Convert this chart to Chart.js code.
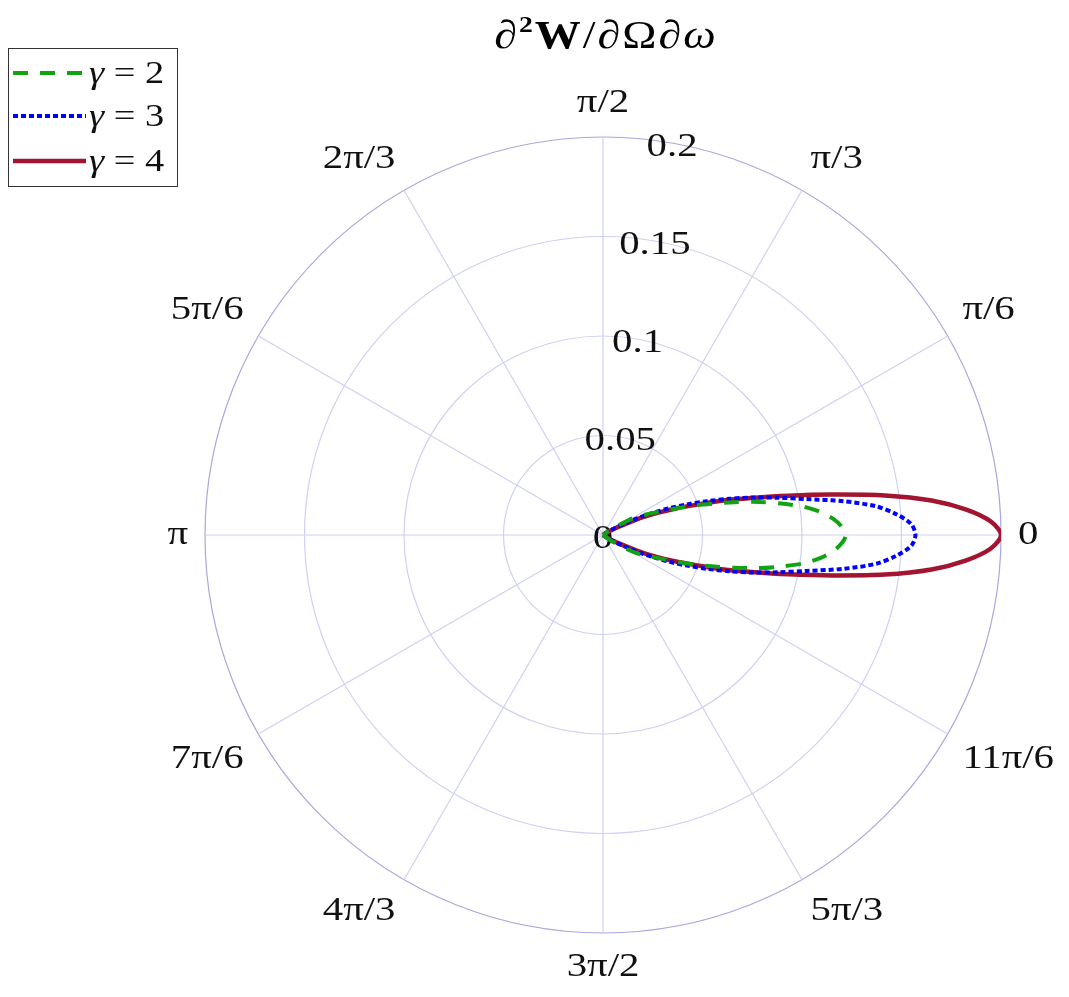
<!DOCTYPE html>
<html>
<head>
<meta charset="utf-8">
<script src="https://cdn.jsdelivr.net/npm/chart.js@4"></script>
<style>
  html, body { margin: 0; padding: 0; background: #fff; }
  #wrap { width: 1069px; height: 997px; }
</style>
</head>
<body>
<div id="wrap"><canvas id="polarChart"></canvas></div>
<script>
// 角度(度)と各γの半径値
const angleDeg = [-40, -35, -30, -28, -26, -24, -22, -20, -18, -16, -14, -12, -10, -8, -6, -4, -2,
                  0, 2, 4, 6, 8, 10, 12, 14, 16, 18, 20, 22, 24, 26, 28, 30, 35, 40];

const gamma2 = [0, 0.005, 0.015, 0.020, 0.023, 0.027, 0.032, 0.039, 0.048, 0.057, 0.068, 0.080, 0.091, 0.102, 0.110, 0.116, 0.120,
                0.122, 0.120, 0.116, 0.110, 0.102, 0.091, 0.080, 0.068, 0.057, 0.048, 0.039, 0.032, 0.027, 0.023, 0.020, 0.015, 0.005, 0];
const gamma3 = [0, 0.002, 0.007, 0.012, 0.019, 0.027, 0.036, 0.045, 0.055, 0.066, 0.078, 0.090, 0.104, 0.122, 0.138, 0.148, 0.155,
                0.157, 0.155, 0.148, 0.138, 0.122, 0.104, 0.090, 0.078, 0.066, 0.055, 0.045, 0.036, 0.027, 0.019, 0.012, 0.007, 0.002, 0];
const gamma4 = [0, 0.001, 0.005, 0.009, 0.014, 0.022, 0.030, 0.039, 0.049, 0.063, 0.077, 0.095, 0.117, 0.143, 0.166, 0.183, 0.195,
                0.200, 0.195, 0.183, 0.166, 0.143, 0.117, 0.095, 0.077, 0.063, 0.049, 0.039, 0.030, 0.022, 0.014, 0.009, 0.005, 0.001, 0];

const gammaValues = ['2', '3', '4'];
const seriesNames = gammaValues.map(g => '\u03b3 = ' + g);

// 動径方向の目盛りと角度方向の目盛り
const rTicks = [0, 0.05, 0.1, 0.15, 0.2];
const rTickLabels = ['0', '0.05', '0.1', '0.15', '0.2'];
const thetaTicksDeg = [0, 30, 60, 90, 120, 150, 180, 210, 240, 270, 300, 330];
const thetaTickLabels = ['0', '\u03c0/6', '\u03c0/3', '\u03c0/2', '2\u03c0/3', '5\u03c0/6', '\u03c0',
                         '7\u03c0/6', '4\u03c0/3', '3\u03c0/2', '5\u03c0/3', '11\u03c0/6'];
const rMax = 0.2;
const rLabelAngleDeg = 80;

const SERIF = '"Liberation Serif", "DejaVu Serif", serif';
const TEXT_SX = 1.2; // 元図の文字は横長なので横方向に少し伸ばす

// 極座標 → 直交座標（描画はscatterのスケールを通す）
function toXY(rs) {
    return rs.map((r, i) => {
        const t = angleDeg[i] * Math.PI / 180;
        return { x: r * Math.cos(t), y: r * Math.sin(t) };
    });
}

const styles = [
    { color: '#12a312', dash: [15, 12], width: 4 },
    { color: '#0000ff', dash: [5, 3], width: 4 },
    { color: '#a2142f', dash: [], width: 4.5 }
];

// 横方向に伸ばしたテキスト描画（幅を返す）
function drawText(ctx, text, x, y, font, align, baseline, sx = TEXT_SX, draw = true) {
    ctx.save();
    ctx.font = font;
    ctx.textAlign = align;
    ctx.textBaseline = baseline;
    ctx.translate(x, y);
    ctx.scale(sx, 1);
    if (draw) ctx.fillText(text, 0, 0);
    const w = ctx.measureText(text).width * sx;
    ctx.restore();
    return w;
}

// 極座標グリッド・目盛りラベル
const polarGrid = {
    id: 'polarGrid',
    beforeDatasetsDraw(chart) {
        const { ctx, scales: { x, y } } = chart;
        const cx = x.getPixelForValue(0);
        const cy = y.getPixelForValue(0);
        const rPx = v => x.getPixelForValue(v) - cx;
        const R = rPx(rMax);
        ctx.save();

        // 同心円
        ctx.lineWidth = 1.2;
        rTicks.forEach(v => {
            if (v === 0) return;
            ctx.strokeStyle = v === rMax ? '#a8a8dd' : '#cfcff4';
            ctx.beginPath();
            ctx.arc(cx, cy, rPx(v), 0, Math.PI * 2);
            ctx.stroke();
        });

        // 放射線
        ctx.strokeStyle = '#cfcff4';
        thetaTicksDeg.forEach(d => {
            const t = d * Math.PI / 180;
            ctx.beginPath();
            ctx.moveTo(cx, cy);
            ctx.lineTo(cx + R * Math.cos(t), cy - R * Math.sin(t));
            ctx.stroke();
        });

        // 角度ラベル
        ctx.fillStyle = '#111';
        const labR = R + 17;
        thetaTicksDeg.forEach((d, i) => {
            const t = d * Math.PI / 180;
            const c = Math.cos(t), s = Math.sin(t);
            const align = c > 0.1 ? 'left' : (c < -0.1 ? 'right' : 'center');
            const base = s > 0.1 ? 'bottom' : (s < -0.1 ? 'top' : 'middle');
            drawText(ctx, thetaTickLabels[i], cx + labR * c, cy - labR * s, '34px ' + SERIF, align, base);
        });

        // 動径ラベル
        const ta = rLabelAngleDeg * Math.PI / 180;
        rTicks.forEach((v, i) => {
            const rp = rPx(v);
            drawText(ctx, rTickLabels[i], cx + rp * Math.cos(ta), cy - rp * Math.sin(ta) + 4,
                     '34px ' + SERIF, 'center', 'middle');
        });
        ctx.restore();
    },
    afterDraw(chart) {
        const { ctx, scales: { x } } = chart;
        const cx = x.getPixelForValue(0);
        ctx.save();
        ctx.fillStyle = '#000';

        // タイトル  ∂²W/∂Ω∂ω （部品ごとに並べる）
        const base = 48;
        const sx = 1.15, gap = 2;
        const parts = [
            { t: '\u2202', f: '40px ' + SERIF, dy: 0 },
            { t: '2', f: 'bold 24px ' + SERIF, dy: -16 },
            { t: 'W', f: 'bold 40px ' + SERIF, dy: 0 },
            { t: '/', f: '40px ' + SERIF, dy: 0 },
            { t: '\u2202', f: '40px ' + SERIF, dy: 0 },
            { t: '\u03a9', f: '40px ' + SERIF, dy: 0 },
            { t: '\u2202', f: '40px ' + SERIF, dy: 0 },
            { t: '\u03c9', f: 'italic 40px ' + SERIF, dy: 0 }
        ];
        const widths = parts.map(p => drawText(ctx, p.t, 0, 0, p.f, 'left', 'alphabetic', sx, false));
        const total = widths.reduce((a, b) => a + b, 0) + gap * (parts.length - 1);
        let tx = cx + 2 - total / 2;
        parts.forEach((p, i) => {
            drawText(ctx, p.t, tx, base + p.dy, p.f, 'left', 'alphabetic', sx);
            tx += widths[i] + gap;
        });

        // 凡例（枠付き）
        ctx.fillStyle = '#fff';
        ctx.fillRect(8.5, 48.5, 169, 138);
        ctx.strokeStyle = '#333';
        ctx.lineWidth = 1;
        ctx.strokeRect(8.5, 48.5, 169, 138);
        const rowY = [73, 116, 161];
        seriesNames.forEach((name, i) => {
            const st = styles[i];
            ctx.strokeStyle = st.color;
            ctx.lineWidth = st.width;
            ctx.setLineDash(st.dash);
            ctx.beginPath();
            ctx.moveTo(13, rowY[i]);
            ctx.lineTo(86, rowY[i]);
            ctx.stroke();
            ctx.setLineDash([]);
            ctx.fillStyle = '#111';
            const w = drawText(ctx, '\u03b3', 89, rowY[i] + 2, 'italic 32px ' + SERIF, 'left', 'middle');
            drawText(ctx, ' = ' + gammaValues[i], 89 + w, rowY[i] + 2, '32px ' + SERIF, 'left', 'middle');
        });
        ctx.restore();
    }
};

const chart = new Chart(document.getElementById('polarChart'), {
    type: 'scatter',
    data: {
        datasets: [gamma2, gamma3, gamma4].map((rs, i) => ({
            label: seriesNames[i],
            data: toXY(rs),
            showLine: true,
            fill: false,
            borderColor: styles[i].color,
            borderWidth: styles[i].width,
            borderDash: styles[i].dash,
            pointRadius: 0,
            tension: 0.3
        }))
    },
    options: {
        responsive: true,
        maintainAspectRatio: false,
        animation: false,
        layout: { padding: { left: 205, right: 68, top: 137, bottom: 64 } },
        scales: {
            x: { type: 'linear', display: false, min: -rMax, max: rMax },
            y: { type: 'linear', display: false, min: -rMax, max: rMax }
        },
        plugins: {
            legend: { display: false },
            title: { display: false },
            tooltip: { enabled: false }
        }
    },
    plugins: [polarGrid]
});
</script>
</body>
</html>
